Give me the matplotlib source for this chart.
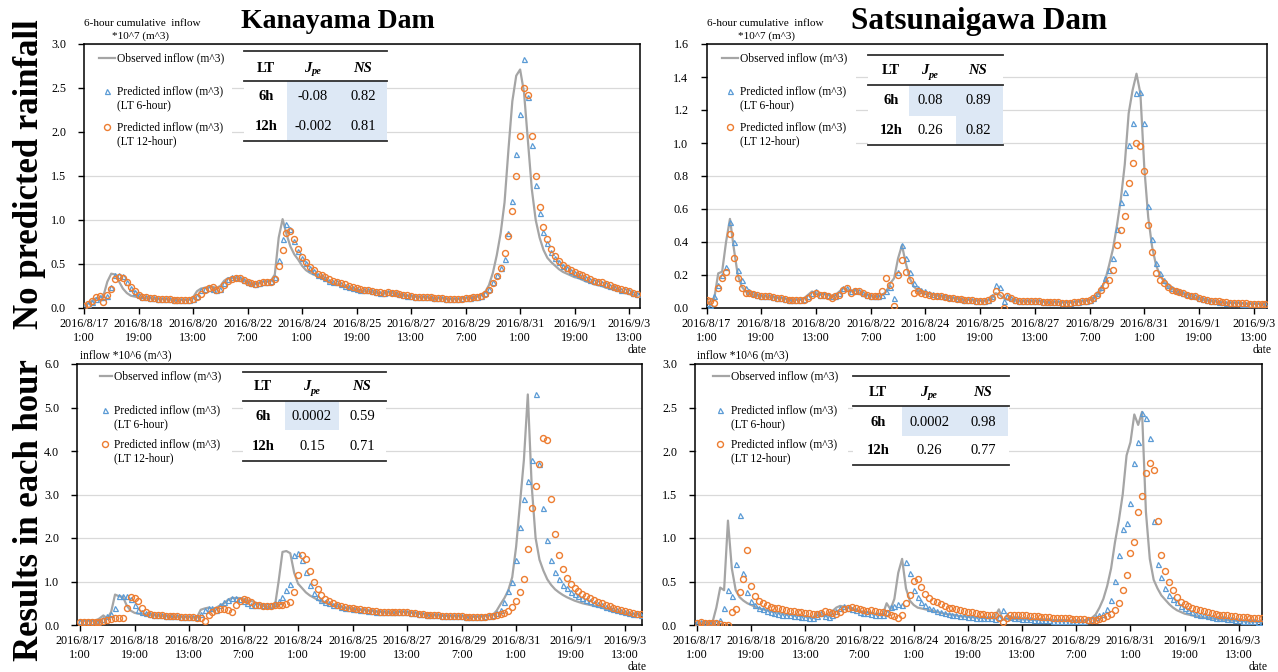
import numpy as np
import matplotlib.pyplot as plt
from matplotlib.lines import Line2D
from matplotlib.patches import Rectangle

plt.rcParams['font.family'] = ['Liberation Serif', 'DejaVu Serif']

# time axis: hours after 2016/8/17 1:00, one value every 3 hours
step_h = 3
tick_hours = [0, 42, 84, 126, 168, 210, 252, 294, 336, 378, 420]
tick_labels = ['2016/8/17\n1:00', '2016/8/18\n19:00', '2016/8/20\n13:00',
               '2016/8/22\n7:00', '2016/8/24\n1:00', '2016/8/25\n19:00',
               '2016/8/27\n13:00', '2016/8/29\n7:00', '2016/8/31\n1:00',
               '2016/9/1\n19:00', '2016/9/3\n13:00']

# Kanayama, 6-hour cumulative inflow (*10^7 m^3)
kana_cum_obs = [
    0.02, 0.05, 0.08, 0.11, 0.12, 0.14, 0.30, 0.39, 0.38, 0.30, 0.22, 0.17,
    0.14, 0.13, 0.12, 0.115, 0.11, 0.11, 0.105, 0.10, 0.10, 0.10, 0.095, 0.09,
    0.09, 0.09, 0.09, 0.095, 0.12, 0.19, 0.22, 0.23, 0.24, 0.24, 0.23, 0.25,
    0.31, 0.34, 0.34, 0.34, 0.33, 0.31, 0.29, 0.27, 0.27, 0.28, 0.30, 0.30,
    0.31, 0.38, 0.80, 1.01, 0.84, 0.70, 0.61, 0.55, 0.48, 0.43, 0.40, 0.38,
    0.36, 0.34, 0.32, 0.29, 0.28, 0.27, 0.25, 0.24, 0.23, 0.22, 0.21, 0.20,
    0.19, 0.19, 0.18, 0.17, 0.17, 0.16, 0.18, 0.17, 0.16, 0.15, 0.14, 0.14,
    0.13, 0.13, 0.12, 0.12, 0.12, 0.11, 0.11, 0.11, 0.11, 0.10, 0.10, 0.10,
    0.10, 0.11, 0.11, 0.12, 0.12, 0.13, 0.15, 0.18, 0.26, 0.40, 0.60, 0.85,
    1.20, 1.80, 2.35, 2.64, 2.71, 2.45, 1.90, 1.35, 1.00, 0.80, 0.66, 0.57,
    0.52, 0.48, 0.44, 0.41, 0.39, 0.37, 0.35, 0.34, 0.32, 0.30, 0.29, 0.27,
    0.26, 0.25, 0.23, 0.22, 0.21, 0.20, 0.18, 0.17, 0.16, 0.15, 0.14]
kana_cum_lt6 = [
    0.02, 0.04, 0.07, 0.10, 0.12, 0.12, 0.14, 0.24, 0.37, 0.38, 0.36, 0.30,
    0.23, 0.18, 0.15, 0.13, 0.12, 0.115, 0.11, 0.105, 0.10, 0.10, 0.10, 0.095,
    0.09, 0.09, 0.09, 0.09, 0.10, 0.14, 0.20, 0.22, 0.23, 0.22, 0.21, 0.22,
    0.28, 0.33, 0.35, 0.35, 0.34, 0.32, 0.29, 0.28, 0.27, 0.28, 0.30, 0.30,
    0.31, 0.35, 0.55, 0.78, 0.96, 0.90, 0.76, 0.65, 0.57, 0.51, 0.46, 0.42,
    0.38, 0.36, 0.34, 0.31, 0.30, 0.29, 0.27, 0.25, 0.24, 0.23, 0.22, 0.21,
    0.20, 0.20, 0.19, 0.18, 0.17, 0.17, 0.18, 0.18, 0.17, 0.16, 0.15, 0.14,
    0.14, 0.13, 0.13, 0.12, 0.12, 0.12, 0.11, 0.11, 0.11, 0.10, 0.10, 0.10,
    0.10, 0.11, 0.11, 0.11, 0.12, 0.13, 0.14, 0.17, 0.22, 0.30, 0.38, 0.46,
    0.56, 0.85, 1.22, 1.75, 2.20, 2.83, 2.40, 1.85, 1.40, 1.08, 0.86, 0.74,
    0.64, 0.57, 0.52, 0.48, 0.45, 0.42, 0.40, 0.38, 0.36, 0.34, 0.32, 0.31,
    0.30, 0.28, 0.27, 0.25, 0.24, 0.23, 0.21, 0.20, 0.19, 0.17, 0.16]
kana_cum_lt12 = [
    0.02, 0.05, 0.08, 0.12, 0.14, 0.07, 0.15, 0.22, 0.33, 0.35, 0.34, 0.30,
    0.24, 0.19, 0.15, 0.13, 0.12, 0.115, 0.11, 0.105, 0.10, 0.10, 0.10, 0.095,
    0.09, 0.09, 0.09, 0.09, 0.10, 0.13, 0.16, 0.20, 0.23, 0.24, 0.21, 0.22,
    0.26, 0.31, 0.33, 0.34, 0.34, 0.32, 0.30, 0.28, 0.27, 0.28, 0.29, 0.30,
    0.30, 0.33, 0.48, 0.66, 0.85, 0.88, 0.78, 0.67, 0.58, 0.52, 0.47, 0.43,
    0.39, 0.37, 0.35, 0.33, 0.31, 0.29, 0.28, 0.27, 0.25, 0.24, 0.23, 0.22,
    0.21, 0.20, 0.19, 0.18, 0.18, 0.17, 0.18, 0.17, 0.17, 0.16, 0.15, 0.15,
    0.14, 0.13, 0.13, 0.12, 0.12, 0.12, 0.11, 0.11, 0.11, 0.10, 0.10, 0.10,
    0.10, 0.10, 0.11, 0.11, 0.12, 0.13, 0.14, 0.16, 0.21, 0.28, 0.36, 0.46,
    0.62, 0.82, 1.10, 1.50, 1.95, 2.50, 2.42, 1.95, 1.50, 1.15, 0.92, 0.78,
    0.67, 0.59, 0.53, 0.49, 0.46, 0.43, 0.41, 0.39, 0.37, 0.35, 0.33, 0.31,
    0.30, 0.29, 0.27, 0.26, 0.24, 0.23, 0.22, 0.20, 0.19, 0.17, 0.16]

# Satsunaigawa, 6-hour cumulative inflow (*10^7 m^3)
sats_cum_obs = [
    0.03, 0.04, 0.06, 0.21, 0.22, 0.40, 0.54, 0.36, 0.20, 0.13, 0.10, 0.09,
    0.08, 0.075, 0.07, 0.07, 0.065, 0.065, 0.06, 0.06, 0.055, 0.05, 0.05, 0.05,
    0.05, 0.06, 0.08, 0.10, 0.09, 0.08, 0.09, 0.08, 0.07, 0.08, 0.10, 0.12,
    0.11, 0.10, 0.11, 0.09, 0.08, 0.08, 0.07, 0.07, 0.07, 0.08, 0.10, 0.15,
    0.18, 0.30, 0.38, 0.27, 0.18, 0.13, 0.11, 0.10, 0.09, 0.085, 0.08, 0.075,
    0.07, 0.065, 0.06, 0.06, 0.055, 0.05, 0.05, 0.05, 0.045, 0.045, 0.045, 0.04,
    0.045, 0.06, 0.09, 0.08, 0.06, 0.05, 0.05, 0.045, 0.04, 0.04, 0.04, 0.04,
    0.04, 0.04, 0.04, 0.035, 0.035, 0.035, 0.035, 0.035, 0.035, 0.035, 0.035, 0.04,
    0.04, 0.045, 0.05, 0.06, 0.08, 0.11, 0.17, 0.26, 0.36, 0.50, 0.66, 0.87,
    1.18, 1.32, 1.42, 1.30, 0.85, 0.55, 0.37, 0.26, 0.20, 0.16, 0.13, 0.12,
    0.10, 0.09, 0.085, 0.08, 0.07, 0.06, 0.055, 0.05, 0.045, 0.04, 0.04, 0.035,
    0.035, 0.03, 0.03, 0.03, 0.03, 0.03, 0.025, 0.025, 0.025, 0.025, 0.025, 0.025]
sats_cum_lt6 = [
    0.03, 0.02, 0.07, 0.14, 0.20, 0.25, 0.52, 0.40, 0.23, 0.17, 0.12, 0.10,
    0.09, 0.08, 0.075, 0.07, 0.07, 0.065, 0.06, 0.06, 0.055, 0.05, 0.05, 0.05,
    0.05, 0.055, 0.07, 0.09, 0.10, 0.08, 0.08, 0.08, 0.07, 0.07, 0.09, 0.12,
    0.12, 0.10, 0.11, 0.10, 0.09, 0.08, 0.07, 0.07, 0.07, 0.08, 0.10, 0.13,
    0.06, 0.22, 0.38, 0.30, 0.22, 0.15, 0.12, 0.11, 0.10, 0.09, 0.085, 0.08,
    0.075, 0.07, 0.065, 0.06, 0.06, 0.055, 0.05, 0.05, 0.05, 0.045, 0.045, 0.045,
    0.05, 0.07, 0.14, 0.13, 0.04, 0.07, 0.06, 0.05, 0.045, 0.04, 0.04, 0.04,
    0.04, 0.04, 0.035, 0.035, 0.035, 0.035, 0.035, 0.03, 0.03, 0.03, 0.035, 0.035,
    0.04, 0.045, 0.05, 0.06, 0.09, 0.13, 0.18, 0.23, 0.30, 0.48, 0.64, 0.70,
    0.99, 1.12, 1.30, 1.31, 1.12, 0.62, 0.42, 0.27, 0.21, 0.17, 0.14, 0.12,
    0.11, 0.10, 0.09, 0.085, 0.08, 0.07, 0.06, 0.055, 0.05, 0.045, 0.04, 0.035,
    0.035, 0.03, 0.03, 0.03, 0.03, 0.025, 0.025, 0.025, 0.025, 0.025, 0.025, 0.025]
sats_cum_lt12 = [
    0.05, 0.04, 0.03, 0.12, 0.18, 0.22, 0.45, 0.30, 0.18, 0.12, 0.09, 0.09,
    0.085, 0.08, 0.07, 0.07, 0.07, 0.065, 0.06, 0.06, 0.055, 0.05, 0.05, 0.05,
    0.05, 0.05, 0.06, 0.08, 0.09, 0.08, 0.08, 0.07, 0.06, 0.07, 0.08, 0.11,
    0.12, 0.09, 0.10, 0.10, 0.09, 0.08, 0.07, 0.07, 0.07, 0.10, 0.18, 0.14,
    0.01, 0.20, 0.29, 0.22, 0.17, 0.09, 0.10, 0.09, 0.085, 0.08, 0.075, 0.07,
    0.07, 0.065, 0.06, 0.06, 0.055, 0.055, 0.05, 0.05, 0.05, 0.045, 0.045, 0.045,
    0.05, 0.06, 0.10, 0.08, 0.00, 0.07, 0.06, 0.05, 0.045, 0.04, 0.04, 0.04,
    0.04, 0.04, 0.035, 0.035, 0.035, 0.035, 0.035, 0.03, 0.03, 0.03, 0.035, 0.035,
    0.04, 0.045, 0.05, 0.06, 0.08, 0.11, 0.14, 0.17, 0.23, 0.38, 0.47, 0.56,
    0.76, 0.88, 1.00, 0.98, 0.83, 0.50, 0.34, 0.21, 0.17, 0.15, 0.13, 0.11,
    0.10, 0.095, 0.09, 0.08, 0.075, 0.07, 0.06, 0.055, 0.05, 0.045, 0.04, 0.04,
    0.035, 0.035, 0.03, 0.03, 0.03, 0.03, 0.03, 0.025, 0.025, 0.025, 0.025, 0.025]

# Kanayama, hourly inflow (*10^6 m^3)
kana_hr_obs = [
    0.10, 0.10, 0.10, 0.10, 0.10, 0.15, 0.22, 0.15, 0.30, 0.70, 0.66, 0.65,
    0.45, 0.33, 0.28, 0.26, 0.25, 0.24, 0.23, 0.22, 0.21, 0.21, 0.20, 0.20,
    0.19, 0.19, 0.18, 0.18, 0.18, 0.17, 0.17, 0.35, 0.38, 0.40, 0.36, 0.40,
    0.45, 0.50, 0.58, 0.62, 0.62, 0.62, 0.60, 0.57, 0.55, 0.52, 0.48, 0.44,
    0.42, 0.40, 0.40, 1.00, 1.68, 1.70, 1.65, 1.20, 0.95, 0.85, 0.75, 0.68,
    0.63, 0.58, 0.54, 0.51, 0.48, 0.46, 0.43, 0.41, 0.39, 0.38, 0.37, 0.36,
    0.35, 0.34, 0.33, 0.32, 0.31, 0.30, 0.29, 0.28, 0.28, 0.29, 0.30, 0.30,
    0.29, 0.28, 0.27, 0.26, 0.25, 0.24, 0.23, 0.22, 0.22, 0.21, 0.21, 0.20,
    0.20, 0.20, 0.20, 0.19, 0.19, 0.19, 0.19, 0.20, 0.21, 0.22, 0.23, 0.33,
    0.48, 0.62, 0.80, 1.10, 1.80, 2.80, 3.80, 5.30, 3.20, 2.00, 1.50, 1.25,
    1.05, 0.92, 0.82, 0.75, 0.69, 0.64, 0.60, 0.56, 0.53, 0.50, 0.48, 0.46,
    0.44, 0.42, 0.40, 0.37, 0.35, 0.33, 0.31, 0.29, 0.27, 0.26, 0.25, 0.24, 0.23]
kana_hr_lt6 = [
    0.10, 0.10, 0.10, 0.10, 0.10, 0.10, 0.13, 0.20, 0.25, 0.40, 0.66, 0.67,
    0.66, 0.60, 0.45, 0.35, 0.30, 0.27, 0.25, 0.24, 0.23, 0.22, 0.21, 0.21,
    0.20, 0.20, 0.19, 0.19, 0.18, 0.18, 0.18, 0.25, 0.35, 0.38, 0.40, 0.35,
    0.45, 0.52, 0.58, 0.62, 0.63, 0.60, 0.55, 0.50, 0.47, 0.46, 0.45, 0.45,
    0.46, 0.47, 0.50, 0.55, 0.65, 0.80, 0.95, 1.60, 1.66, 1.50, 1.22, 0.92,
    0.74, 0.65, 0.58, 0.54, 0.50, 0.47, 0.45, 0.42, 0.40, 0.38, 0.37, 0.36,
    0.35, 0.34, 0.33, 0.32, 0.31, 0.30, 0.29, 0.29, 0.29, 0.30, 0.30, 0.30,
    0.29, 0.28, 0.27, 0.26, 0.25, 0.24, 0.23, 0.22, 0.22, 0.21, 0.21, 0.20,
    0.20, 0.20, 0.20, 0.19, 0.19, 0.19, 0.19, 0.19, 0.20, 0.21, 0.23, 0.27,
    0.35, 0.52, 0.78, 1.00, 1.50, 2.25, 2.90, 3.30, 3.80, 5.30, 3.70, 2.70,
    1.95, 1.50, 1.22, 1.05, 0.93, 0.84, 0.77, 0.71, 0.66, 0.62, 0.58, 0.55,
    0.51, 0.48, 0.45, 0.42, 0.39, 0.36, 0.34, 0.32, 0.30, 0.28, 0.26, 0.25, 0.24]
kana_hr_lt12 = [
    0.08, 0.08, 0.08, 0.08, 0.08, 0.07, 0.10, 0.12, 0.14, 0.15, 0.15, 0.16,
    0.38, 0.65, 0.63, 0.55, 0.40, 0.30, 0.26, 0.24, 0.23, 0.22, 0.21, 0.21,
    0.20, 0.20, 0.19, 0.19, 0.18, 0.18, 0.17, 0.15, 0.10, 0.22, 0.30, 0.34,
    0.36, 0.36, 0.34, 0.30, 0.45, 0.56, 0.60, 0.58, 0.52, 0.47, 0.45, 0.44,
    0.44, 0.44, 0.45, 0.45, 0.46, 0.48, 0.52, 0.75, 1.15, 1.60, 1.52, 1.25,
    0.98, 0.82, 0.68, 0.60, 0.55, 0.50, 0.47, 0.44, 0.42, 0.40, 0.38, 0.37,
    0.36, 0.35, 0.34, 0.33, 0.32, 0.31, 0.30, 0.29, 0.29, 0.30, 0.30, 0.30,
    0.29, 0.28, 0.27, 0.26, 0.25, 0.24, 0.23, 0.22, 0.22, 0.21, 0.21, 0.20,
    0.20, 0.20, 0.20, 0.19, 0.19, 0.19, 0.19, 0.19, 0.19, 0.20, 0.21, 0.23,
    0.25, 0.28, 0.33, 0.42, 0.55, 0.75, 1.06, 1.75, 2.70, 3.20, 3.70, 4.30,
    4.25, 2.90, 2.10, 1.60, 1.28, 1.08, 0.95, 0.85, 0.78, 0.72, 0.67, 0.62,
    0.58, 0.54, 0.50, 0.46, 0.43, 0.40, 0.37, 0.34, 0.32, 0.29, 0.27, 0.26, 0.25]

# Satsunaigawa, hourly inflow (*10^6 m^3)
sats_hr_obs = [
    0.02, 0.02, 0.02, 0.02, 0.03, 0.20, 0.43, 0.40, 1.20, 0.65, 0.40, 0.32,
    0.28, 0.25, 0.23, 0.21, 0.19, 0.18, 0.17, 0.16, 0.15, 0.14, 0.13, 0.12,
    0.12, 0.11, 0.11, 0.10, 0.10, 0.09, 0.08, 0.15, 0.12, 0.10, 0.11, 0.16,
    0.20, 0.22, 0.21, 0.20, 0.19, 0.17, 0.16, 0.15, 0.15, 0.14, 0.13, 0.13,
    0.12, 0.25, 0.18, 0.30, 0.60, 0.76, 0.42, 0.28, 0.23, 0.20, 0.19, 0.18,
    0.17, 0.16, 0.15, 0.14, 0.13, 0.12, 0.12, 0.11, 0.10, 0.10, 0.095, 0.09,
    0.09, 0.085, 0.08, 0.08, 0.08, 0.10, 0.18, 0.06, 0.07, 0.07, 0.07, 0.065,
    0.065, 0.065, 0.06, 0.06, 0.06, 0.06, 0.06, 0.06, 0.055, 0.055, 0.055, 0.055,
    0.05, 0.05, 0.05, 0.05, 0.05, 0.06, 0.08, 0.12, 0.20, 0.30, 0.45, 0.65,
    0.95, 1.20, 1.50, 1.95, 2.10, 2.42, 2.30, 2.45, 1.30, 0.76, 0.52, 0.42,
    0.34, 0.29, 0.24, 0.20, 0.17, 0.15, 0.13, 0.12, 0.11, 0.10, 0.09, 0.085,
    0.08, 0.075, 0.07, 0.065, 0.06, 0.055, 0.05, 0.05, 0.045, 0.045, 0.04, 0.04,
    0.04, 0.035, 0.035]
sats_hr_lt6 = [
    0.03, 0.04, 0.04, 0.03, 0.03, 0.04, 0.06, 0.20, 0.40, 0.33, 0.70, 1.27,
    0.60, 0.38, 0.28, 0.23, 0.20, 0.18, 0.16, 0.15, 0.14, 0.13, 0.12, 0.11,
    0.11, 0.10, 0.10, 0.09, 0.09, 0.08, 0.08, 0.10, 0.14, 0.10, 0.09, 0.12,
    0.16, 0.20, 0.22, 0.20, 0.18, 0.17, 0.15, 0.14, 0.14, 0.13, 0.12, 0.12,
    0.12, 0.15, 0.21, 0.22, 0.24, 0.23, 0.72, 0.60, 0.40, 0.32, 0.27, 0.23,
    0.20, 0.18, 0.16, 0.15, 0.14, 0.13, 0.12, 0.11, 0.10, 0.10, 0.09, 0.09,
    0.085, 0.08, 0.08, 0.075, 0.075, 0.07, 0.09, 0.17, 0.12, 0.09, 0.08, 0.075,
    0.07, 0.07, 0.065, 0.06, 0.06, 0.06, 0.055, 0.055, 0.05, 0.05, 0.05, 0.05,
    0.045, 0.045, 0.045, 0.05, 0.05, 0.06, 0.07, 0.09, 0.11, 0.13, 0.18, 0.29,
    0.51, 0.80, 1.10, 1.17, 1.40, 1.86, 2.10, 2.44, 2.38, 2.15, 1.20, 0.70,
    0.55, 0.42, 0.35, 0.30, 0.26, 0.22, 0.19, 0.17, 0.15, 0.13, 0.12, 0.11,
    0.10, 0.09, 0.085, 0.08, 0.075, 0.07, 0.065, 0.06, 0.055, 0.05, 0.05, 0.045,
    0.045, 0.04, 0.04]
sats_hr_lt12 = [
    0.02, 0.03, 0.02, 0.02, 0.02, 0.02, 0.01, 0.00, 0.00, 0.15, 0.18, 0.38,
    0.53, 0.86, 0.45, 0.33, 0.28, 0.25, 0.23, 0.21, 0.20, 0.19, 0.18, 0.17,
    0.16, 0.16, 0.15, 0.15, 0.14, 0.14, 0.13, 0.13, 0.14, 0.16, 0.15, 0.14,
    0.13, 0.15, 0.18, 0.20, 0.21, 0.20, 0.18, 0.17, 0.16, 0.17, 0.16, 0.15,
    0.15, 0.14, 0.12, 0.10, 0.08, 0.12, 0.25, 0.35, 0.51, 0.53, 0.44, 0.36,
    0.31, 0.28, 0.26, 0.24, 0.22, 0.20, 0.19, 0.18, 0.17, 0.16, 0.15, 0.15,
    0.14, 0.13, 0.13, 0.12, 0.12, 0.11, 0.08, 0.03, 0.08, 0.12, 0.11, 0.11,
    0.11, 0.11, 0.10, 0.10, 0.10, 0.095, 0.09, 0.09, 0.085, 0.08, 0.08, 0.075,
    0.075, 0.07, 0.07, 0.065, 0.065, 0.06, 0.06, 0.06, 0.065, 0.08, 0.10, 0.13,
    0.17, 0.25, 0.40, 0.57, 0.83, 0.95, 1.30, 1.48, 1.75, 1.86, 1.78, 1.20,
    0.80, 0.62, 0.50, 0.40, 0.32, 0.27, 0.24, 0.22, 0.20, 0.18, 0.17, 0.16,
    0.15, 0.14, 0.13, 0.12, 0.115, 0.11, 0.10, 0.10, 0.095, 0.09, 0.09, 0.085,
    0.085, 0.08, 0.08]

# skill scores shown in the small tables
kana_cum_scores = [['6h', '-0.08', '0.82'], ['12h', '-0.002', '0.81']]
sats_cum_scores = [['6h', '0.08', '0.89'], ['12h', '0.26', '0.82']]
kana_hr_scores = [['6h', '0.0002', '0.59'], ['12h', '0.15', '0.71']]
sats_hr_scores = [['6h', '0.0002', '0.98'], ['12h', '0.26', '0.77']]

OBS_C = '#a5a5a5'
LT6_C = '#5b9bd5'
LT12_C = '#ed7d31'
SHADE_C = '#dde8f5'

W, H = 1278, 672
fig = plt.figure(figsize=(W / 100, H / 100), dpi=100)


def fx(px):
    return px / W


def fy(py):
    return 1 - py / H


def panel(obs, lt6, lt12, x0, pph, xlim, ybot, ytop, ymax, ystep):
    left = x0 + xlim[0] * pph
    right = x0 + xlim[1] * pph
    ax = fig.add_axes([fx(left), fy(ybot), (right - left) / W, (ybot - ytop) / H])
    t = np.arange(len(obs)) * step_h
    ax.plot(t, obs, color=OBS_C, lw=1.6, zorder=3)
    ax.plot(t, lt6, ls='none', marker='^', ms=3.6, mfc='none', mec=LT6_C, mew=0.9, zorder=4)
    ax.plot(t, lt12, ls='none', marker='o', ms=4.3, mfc='none', mec=LT12_C, mew=1.0, zorder=5)
    ax.set_xlim(*xlim)
    ax.set_ylim(0, ymax)
    ax.set_yticks(np.arange(0, ymax + ystep / 2, ystep))
    ax.yaxis.set_major_formatter('{x:.1f}')
    ax.set_xticks(tick_hours)
    ax.set_xticklabels(tick_labels)
    ax.grid(axis='y', color='#d9d9d9', lw=0.9)
    ax.set_axisbelow(True)
    ax.tick_params(axis='x', length=4, width=1, pad=3, labelsize=8.7)
    ax.tick_params(axis='y', length=4, width=1, pad=9, labelsize=8.7)
    for s in ax.spines.values():
        s.set_linewidth(1.1)
    return ax


def legend(box, lx0, lx1, mx, tx, ys):
    bx0, bx1, by0, by1 = box
    fig.add_artist(Rectangle((fx(bx0), fy(by1)), (bx1 - bx0) / W, (by1 - by0) / H,
                             fc='white', ec='none', zorder=1))
    fig.add_artist(Line2D([fx(lx0), fx(lx1)], [fy(ys[0])] * 2, color=OBS_C, lw=1.6))
    fig.add_artist(Line2D([fx(mx)], [fy(ys[1])], ls='none', marker='^', ms=3.6,
                          mfc='none', mec=LT6_C, mew=0.9))
    fig.add_artist(Line2D([fx(mx)], [fy(ys[2])], ls='none', marker='o', ms=4.3,
                          mfc='none', mec=LT12_C, mew=1.0))
    kw = dict(fontsize=8.3, va='center', ha='left')
    fig.text(fx(tx), fy(ys[0]), 'Observed inflow (m^3)', **kw)
    fig.text(fx(tx), fy(ys[1]), 'Predicted inflow (m^3)', **kw)
    fig.text(fx(tx), fy(ys[1] + 14), '(LT 6-hour)', **kw)
    fig.text(fx(tx), fy(ys[2]), 'Predicted inflow (m^3)', **kw)
    fig.text(fx(tx), fy(ys[2] + 14), '(LT 12-hour)', **kw)


def table(x0, x1, rules, cols, yh, yrows, shades, rows):
    fig.add_artist(Rectangle((fx(x0), fy(rules[2])), (x1 - x0) / W,
                             (rules[2] - rules[0]) / H, fc='white', ec='none', zorder=1))
    for sx0, sx1, sy0, sy1 in shades:
        fig.add_artist(Rectangle((fx(sx0), fy(sy1)), (sx1 - sx0) / W, (sy1 - sy0) / H,
                                 fc=SHADE_C, ec='none', zorder=1.5))
    for r in rules:
        fig.add_artist(Line2D([fx(x0), fx(x1)], [fy(r)] * 2, color='#303030', lw=1.3))
    kw = dict(fontsize=10.5, ha='center', va='center')
    fig.text(fx(cols[0]), fy(yh), 'LT', fontweight='bold', **kw)
    fig.text(fx(cols[1] - 1.5), fy(yh), 'J', fontsize=10.5, ha='right', va='center',
             fontweight='bold', fontstyle='italic')
    fig.text(fx(cols[1] - 1.5), fy(yh + 4), 'pe', fontsize=7.5, ha='left', va='center',
             fontweight='bold', fontstyle='italic')
    fig.text(fx(cols[2]), fy(yh), 'NS', fontweight='bold', fontstyle='italic', **kw)
    for y, row in zip(yrows, rows):
        fig.text(fx(cols[0]), fy(y), row[0], fontweight='bold', **kw)
        fig.text(fx(cols[1]), fy(y), row[1], **kw)
        fig.text(fx(cols[2]), fy(y), row[2], **kw)


# top left: Kanayama, 6-hour cumulative
panel(kana_cum_obs, kana_cum_lt6, kana_cum_lt12, 84, 1.298, (0, 428), 308, 44, 3.0, 0.5)
legend((85, 232, 46, 152), 99, 115, 107, 117, (58, 91, 127))
table(244, 387, (51, 80.5, 141), (266, 313, 363), 68, (97, 127),
      [(287, 387, 80.5, 141)], kana_cum_scores)

# top right: Satsunaigawa, 6-hour cumulative
panel(sats_cum_obs, sats_cum_lt6, sats_cum_lt12, 706.5, 1.303, (0, 430), 308, 44, 1.6, 0.2)
legend((708, 856, 46, 152), 722, 738, 730, 740, (58, 91, 127))
table(868, 1003, (55, 85, 145), (891, 930, 978), 71, (101, 131),
      [(909, 1003, 85, 116), (956, 1003, 116, 145)], sats_cum_scores)

# bottom left: Kanayama, hourly
panel(kana_hr_obs, kana_hr_lt6, kana_hr_lt12, 80, 1.298, (-2, 433), 625, 364, 6.0, 1.0)
legend((79, 232, 366, 468), 100, 112, 105, 114, (376, 410, 444))
table(243, 386, (372, 401, 461), (263, 312, 362), 387, (417, 447),
      [(285, 339, 401, 430)], kana_hr_scores)

# bottom right: Satsunaigawa, hourly
panel(sats_hr_obs, sats_hr_lt6, sats_hr_lt12, 697, 1.29, (-1.5, 438), 625, 364, 3.0, 0.5)
legend((697, 848, 366, 468), 713, 729, 720, 731, (376, 410, 444))
table(853, 1009, (376, 406, 465), (878, 929, 983), 392, (422, 451),
      [(902, 1008, 406, 436)], sats_hr_scores)

# titles and axis captions
fig.text(fx(338), fy(22), 'Kanayama Dam', ha='center', va='center',
         fontsize=20, fontweight='bold')
fig.text(fx(979), fy(22), 'Satsunaigawa Dam', ha='center', va='center',
         fontsize=22.5, fontweight='bold')
fig.text(fx(30), fy(174), 'No predicted rainfall', rotation=90, ha='center',
         va='center', fontsize=25, fontweight='bold')
fig.text(fx(30), fy(510), 'Results in each hour', rotation=90, ha='center',
         va='center', fontsize=25, fontweight='bold')

cap = dict(fontsize=8, ha='center', va='center')
fig.text(fx(142), fy(23), '6-hour cumulative  inflow', **cap)
fig.text(fx(141), fy(36), '*10^7 (m^3)', **cap)
fig.text(fx(765), fy(23), '6-hour cumulative  inflow', **cap)
fig.text(fx(767), fy(36), '*10^7 (m^3)', **cap)
fig.text(fx(80), fy(355), 'inflow *10^6 (m^3)', fontsize=8.3, ha='left', va='center')
fig.text(fx(697), fy(355), 'inflow *10^6 (m^3)', fontsize=8.3, ha='left', va='center')

for dx, dy in [(637, 350), (1262, 350), (637, 667), (1258, 667)]:
    fig.text(fx(dx), fy(dy), 'date', fontsize=8.3, ha='center', va='center')

fig.savefig('out.png', dpi=100)
